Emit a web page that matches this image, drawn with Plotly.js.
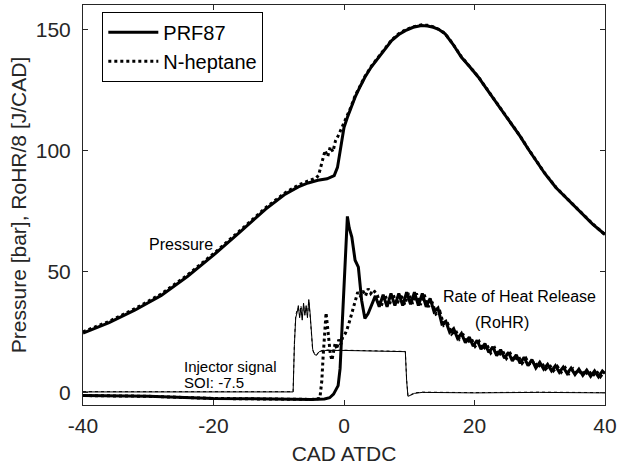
<!DOCTYPE html>
<html>
<head>
<meta charset="utf-8">
<script src="https://cdn.plot.ly/plotly-3.0.1.min.js"></script>
<style>
  html, body { margin: 0; padding: 0; background: #fff; }
  #chart { width: 617px; height: 471px; }
</style>
</head>
<body>
<div id="chart"></div>
<script>
// ---------- Data ----------
// Cylinder pressure [bar], PRF87
const pPrfX = [-40,-36,-32,-28,-24,-20,-16,-12,-9,-7,-5.5,-4,-2.6,-1.5,-1.0,-0.6,-0.3,0,0.5,1.0,1.7,2.5,3.2,4.2,5.3,6.3,7.3,8.4,9.4,10.6,11.9,12.8,13.7,14.6,15.5,16.7,18.0,19.3,20.6,21.8,23.1,24.4,25.7,27.0,28.2,29.5,30.8,32.5,34.4,36.3,38.1,40];
const pPrfY = [24.7,29.0,34.2,40.2,48.0,56.8,66.2,75.8,82.0,85.0,86.6,87.7,88.3,89.6,93,100,106,109.5,113.5,117,122,126.5,130.2,134.5,138.4,142,145.3,147.8,149.4,150.8,151.5,151.3,150.8,149.8,148.1,143.8,138.4,134.4,130.2,125.6,120.6,115.8,111.0,105.8,100.7,95.5,90.4,84.6,79.4,74.3,69.6,65.3];

// Cylinder pressure [bar], N-heptane
const pHepX = [-40,-36,-32,-28,-24,-20,-16,-12,-9,-7,-5.5,-4.3,-3.9,-3.4,-2.9,-2.5,-2.1,-1.7,-1.3,-0.9,-0.5,0,0.5,1.0,1.7,2.5,3.2,4.2,5.3,6.3,7.3,8.4,9.4,10.6,11.9,12.8,13.7,14.6,15.5,16.7,18.0,19.3,20.6,21.8,23.1,24.4,25.7,27.0,28.2,29.5,30.8,32.5,34.4,36.3,38.1,40];
const pHepY = [25.2,29.5,34.8,40.8,48.6,57.4,66.8,76.4,82.6,85.7,87.4,88.6,89.7,94.5,100,97.5,101.5,99.5,104,106,108.5,111,114,117.5,122.5,127,130.5,134.8,138.8,142.3,145.6,148.2,149.7,151.0,151.8,151.6,151.0,149.9,148.2,143.9,138.6,134.5,130.3,125.7,120.7,115.9,111.1,105.9,100.8,95.6,90.5,84.7,79.5,74.4,69.7,65.3];

// Rate of heat release / 8 [J/CAD], PRF87
const rPrfX = [-40,-30,-20,-10,-5,-3,-2.2,-1.6,-1.2,-0.9,-0.6,-0.34,0,0.17,0.52,0.8,1.2,1.7,2.2,2.7,3.2,3.7,4.2,
  4.8,5.4,6.0,6.6,7.2,7.8,8.4,9.0,9.6,10.2,10.8,11.4,12.0,12.6,13.2,13.8,14.4,15.0,15.6,16.2,16.8,17.4,18.0,18.6,19.2,19.8,20.4,21.0,21.6,22.2,22.8,23.4,24.0,24.6,25.2,25.8,26.4,27.0,27.6,28.2,28.8,29.4,30.0,30.6,31.2,31.8,32.4,33.0,33.6,34.2,34.8,35.4,36.0,36.6,37.2,37.8,38.4,39.0,39.6,40];
const rPrfY = [-1.1,-1.4,-2.3,-2.7,-2.7,-2.5,-2.0,-0.5,1.8,3,10,24.5,48,58.8,72.8,68,64.3,54.7,51.9,38.2,30.7,32.7,36,
  40.0,35.5,40.5,35.5,41.0,36.0,41.0,36.0,41.5,36.5,41.5,36.0,41.0,35.5,39.0,33.5,35.0,28.5,29.5,25.0,26.5,22.5,24.5,20.7,23.0,19.3,21.7,18.0,20.3,16.7,19.0,15.4,17.8,14.3,16.7,13.2,15.7,12.2,14.7,11.2,13.7,10.3,12.6,9.8,11.8,9.1,11.2,8.5,10.6,8.0,10.2,7.6,9.8,7.2,9.4,6.8,9.1,6.6,9.0,8.0];

// Rate of heat release / 8 [J/CAD], N-heptane
const rHepX = [-40,-30,-20,-10,-5,-3.7,-3.4,-3.2,-2.95,-2.75,-2.55,-2.4,-2.1,-1.85,-1.6,-1.35,-1.1,-0.8,-0.5,-0.2,0.2,0.5,0.9,1.3,1.7,2.1,2.5,2.9,3.3,3.7,4.1,4.5,
  5.1,5.7,6.3,6.9,7.5,8.1,8.7,9.3,9.9,10.5,11.1,11.7,12.3,12.9,13.5,14.1,14.7,15.3,15.9,16.5,17.1,17.7,18.3,18.9,19.5,20.1,20.7,21.3,21.9,22.5,23.1,23.7,24.3,24.9,25.5,26.1,26.7,27.3,27.9,28.5,29.1,29.7,30.3,30.9,31.5,32.1,32.7,33.3,33.9,34.5,35.1,35.7,36.3,36.9,37.5,38.1,38.7,39.3,39.9];
const rHepY = [-1.1,-1.4,-2.3,-2.7,-2.7,-2.3,5,15,28,33,28,24,16,13.5,17,20.5,18,22,20,23,24.5,26.5,30,34,38,41.5,40,42,40,43,41,42.5,
  40.3,35.8,40.3,36.0,40.8,36.3,40.8,36.5,41.2,36.8,41.0,36.3,40.5,35.5,37.5,32.5,33.5,27.8,28.5,24.3,25.8,22.2,23.8,20.6,22.4,19.2,21.2,17.8,19.8,16.5,18.5,15.3,17.3,14.2,16.2,13.2,15.2,12.2,14.2,11.3,13.2,10.4,12.3,9.8,11.5,9.1,10.9,8.5,10.4,8.0,9.9,7.6,9.5,7.2,9.2,6.9,8.9,6.7,8.8];

// Injector signal (scaled), PRF87 and N-heptane runs
const injPrfX = [-40,-7.8,-7.6,-7.4,-7.2,-7.0,-6.8,-6.6,-6.4,-6.2,-6.0,-5.8,-5.6,-5.4,-5.2,-5.0,-4.8,-4.5,-4.2,-3.8,-3.0,0,5,9.4,9.6,9.8,10.2,10.8,12,20,30,40];
const injPrfY = [0.4,0.4,20,31,33,36,31,35,30,37,32,36,31,38.5,33,24,18,15.8,15.5,17,17.5,17.5,17.2,17.0,5,-1.4,-1.0,-0.2,0.2,0.0,0.2,0.0];
const injHepX = [-40,-7.8,-7.6,-7.4,-7.2,-7.0,-6.8,-6.6,-6.4,-6.2,-6.0,-5.8,-5.6,-5.4,-5.2,-5.0,-4.8,-4.5,-4.2,-3.8,-3.0,0,5,9.4,9.6,9.8,10.2,10.8,12,20,30,40];
const injHepY = [0.5,0.5,21,32,34,35,32,36,31,36,33,35,32,38,32,23,17.5,16,15.8,17.2,17.7,17.6,17.3,17.1,5.5,-1.2,-0.8,0.0,0.3,0.1,0.3,0.1];

// Axis ticks and labels
const xTicks = [-40,-20,0,20,40];
const yTicks = [0,50,100,150];
const seriesNames = ['PRF87','N-heptane'];

// ---------- Plot ----------
const ink = '#000000';
const axisInk = '#262626';
const FONT = 'Liberation Sans, Arial, Helvetica, sans-serif';

const traces = [
  {x: pPrfX, y: pPrfY, mode: 'lines', name: seriesNames[0], legendgroup: 'prf',
   line: {color: ink, width: 3}},
  {x: pHepX, y: pHepY, mode: 'lines', name: seriesNames[1], legendgroup: 'hep',
   line: {color: ink, width: 3, dash: 'dot'}},
  {x: rPrfX, y: rPrfY, mode: 'lines', name: seriesNames[0], legendgroup: 'prf', showlegend: false,
   line: {color: ink, width: 3}},
  {x: rHepX, y: rHepY, mode: 'lines', name: seriesNames[1], legendgroup: 'hep', showlegend: false,
   line: {color: ink, width: 3, dash: 'dot'}},
  {x: injPrfX, y: injPrfY, mode: 'lines', name: seriesNames[0] + ' injector', showlegend: false,
   line: {color: ink, width: 1}},
  {x: injHepX, y: injHepY, mode: 'lines', name: seriesNames[1] + ' injector', showlegend: false,
   line: {color: ink, width: 1, dash: 'dot'}}
];

const annFont = {family: FONT, size: 16, color: ink};
const annFontSmall = {family: FONT, size: 15, color: ink};
const layout = {
  width: 617, height: 471,
  margin: {l: 83, r: 12, t: 5, b: 66, pad: 0},
  paper_bgcolor: '#ffffff', plot_bgcolor: '#ffffff',
  font: {family: FONT, color: axisInk, size: 21},
  showlegend: true,
  legend: {
    x: 0.037, y: 0.983, xanchor: 'left', yanchor: 'top',
    bgcolor: '#ffffff', bordercolor: ink, borderwidth: 1,
    font: {family: FONT, size: 20, color: ink},
    itemwidth: 50, tracegroupgap: 0
  },
  xaxis: {
    range: [-40, 40], tickvals: xTicks, ticktext: xTicks.map(String),
    ticks: 'inside', ticklen: 5, tickwidth: 1, tickcolor: axisInk,
    showline: true, linecolor: axisInk, linewidth: 1, mirror: 'ticks',
    showgrid: false, zeroline: false,
    tickfont: {family: FONT, size: 21, color: axisInk},
    ticklabelstandoff: 2,
    title: {text: 'CAD ATDC', font: {family: FONT, size: 21, color: axisInk}, standoff: 10}
  },
  yaxis: {
    range: [-5, 160], tickvals: yTicks, ticktext: yTicks.map(String),
    ticks: 'inside', ticklen: 5, tickwidth: 1, tickcolor: axisInk,
    showline: true, linecolor: axisInk, linewidth: 1, mirror: 'ticks',
    showgrid: false, zeroline: false,
    tickfont: {family: FONT, size: 21, color: axisInk},
    ticklabelstandoff: 7,
    title: {text: 'Pressure [bar], RoHR/8 [J/CAD]', font: {family: FONT, size: 21, color: axisInk}, standoff: 3}
  },
  annotations: [
    {x: -25.0, y: 61.3, xref: 'x', yref: 'y', text: 'Pressure', showarrow: false,
     xanchor: 'center', yanchor: 'middle', font: annFont},
    {x: -24.85, y: 11.0, xref: 'x', yref: 'y', text: 'Injector signal', showarrow: false,
     xanchor: 'left', yanchor: 'middle', font: annFontSmall},
    {x: -24.85, y: 4.2, xref: 'x', yref: 'y', text: 'SOI: -7.5', showarrow: false,
     xanchor: 'left', yanchor: 'middle', font: annFontSmall},
    {x: 26.85, y: 39.6, xref: 'x', yref: 'y', text: 'Rate of Heat Release', showarrow: false,
     xanchor: 'center', yanchor: 'middle', font: annFont},
    {x: 24.2, y: 28.9, xref: 'x', yref: 'y', text: '(RoHR)', showarrow: false,
     xanchor: 'center', yanchor: 'middle', font: annFont}
  ]
};

Plotly.newPlot('chart', traces, layout, {displayModeBar: false, staticPlot: true});
</script>
</body>
</html>
